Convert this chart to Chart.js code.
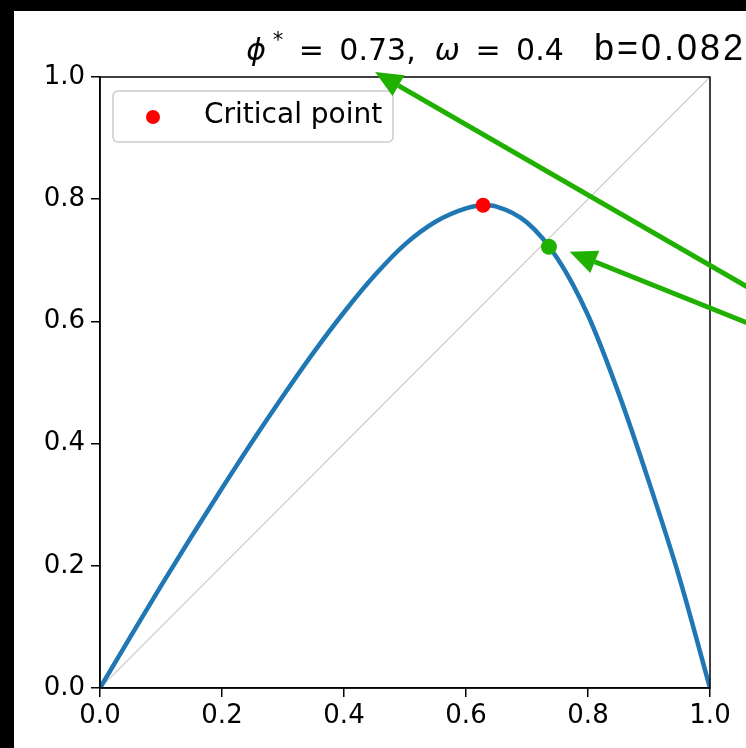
<!DOCTYPE html>
<html>
<head>
<meta charset="utf-8">
<script src="https://cdn.jsdelivr.net/npm/chart.js@4.4.1/dist/chart.umd.min.js"></script>
<style>
    html, body { margin: 0; padding: 0; background: #000; }
    #wrap { position: absolute; left: 14px; top: 11px; width: 732px; height: 737px; background: #fff; }
</style>
</head>
<body>
<div id="wrap"><canvas id="chart" width="732" height="737"></canvas></div>
<script>
// map curve
const curveX = [0, 0.05, 0.10, 0.15, 0.20, 0.25, 0.30, 0.35, 0.40, 0.45, 0.50, 0.55, 0.60, 0.63, 0.65, 0.70, 0.75, 0.80, 0.85, 0.90, 0.95, 1.0];
const curveY = [0, 0.084, 0.167, 0.248, 0.327, 0.404, 0.478, 0.549, 0.615, 0.675, 0.726, 0.763, 0.785, 0.790, 0.788, 0.762, 0.703, 0.610, 0.483, 0.337, 0.180, 0.0];
const diagX = [0, 1];
const diagY = [0, 1];
const criticalPoint = [0.628, 0.790];
const fixedPoint = [0.736, 0.722];
const tickValues = [0, 0.2, 0.4, 0.6, 0.8, 1.0];
const legendLabel = 'Critical point';
const sideLabel = 'b=0.082';
// arrows as [tailX, tailY, tipX, tipY] in data units
const arrowTitle = [1.1, 0.634, 0.451, 1.008];
const arrowPoint = [1.1, 0.582, 0.770, 0.714];

const GREEN = '#1fb000';
const FONT = "'DejaVu Sans'";

const toPoints = (xs, ys) => xs.map((x, i) => ({ x: x, y: ys[i] }));

function drawArrow(ctx, chart, a) {
    const sx = chart.scales.x, sy = chart.scales.y;
    const x0 = sx.getPixelForValue(a[0]), y0 = sy.getPixelForValue(a[1]);
    const x1 = sx.getPixelForValue(a[2]), y1 = sy.getPixelForValue(a[3]);
    const ang = Math.atan2(y1 - y0, x1 - x0);
    const headLen = 27, headHalf = 12;
    const bx = x1 - headLen * Math.cos(ang), by = y1 - headLen * Math.sin(ang);
    ctx.strokeStyle = GREEN;
    ctx.fillStyle = GREEN;
    ctx.lineWidth = 5;
    ctx.beginPath();
    ctx.moveTo(x0, y0);
    ctx.lineTo(bx, by);
    ctx.stroke();
    ctx.beginPath();
    ctx.moveTo(x1, y1);
    ctx.lineTo(bx + headHalf * Math.sin(ang), by - headHalf * Math.cos(ang));
    ctx.lineTo(bx - headHalf * Math.sin(ang), by + headHalf * Math.cos(ang));
    ctx.closePath();
    ctx.fill();
}

function drawTitle(ctx, area) {
    // phi^* = 0.73,  omega = 0.4  (mathtext style, wider space round "=")
    const eq = ' \u2009=\u2009 ';
    const parts = [
        { t: '\u03D5', f: 'oblique 30px ' + FONT, dy: 0 },
        { t: ' *', f: '21px ' + FONT, dy: -13 },
        { t: eq + '0.73,  ', f: '30px ' + FONT, dy: 0 },
        { t: '\u03C9', f: 'oblique 30px ' + FONT, dy: 0 },
        { t: eq + '0.4', f: '30px ' + FONT, dy: 0 }
    ];
    let total = 0;
    parts.forEach(p => { ctx.font = p.f; p.w = ctx.measureText(p.t).width; total += p.w; });
    let x = (area.left + area.right) / 2 - total / 2;
    const base = area.top - 17;
    ctx.fillStyle = '#000';
    ctx.textAlign = 'left';
    ctx.textBaseline = 'alphabetic';
    parts.forEach(p => { ctx.font = p.f; ctx.fillText(p.t, x, base + p.dy); x += p.w; });

    ctx.font = "36px 'Liberation Sans'";
    ctx.letterSpacing = '3px';
    ctx.fillText(sideLabel, area.left + 494, area.top - 17);
    ctx.letterSpacing = '0px';
}

function drawLegend(ctx, area) {
    const x = area.left + 13, y = area.top + 14, w = 280, h = 51;
    ctx.fillStyle = 'rgba(255,255,255,0.8)';
    ctx.strokeStyle = '#cccccc';
    ctx.lineWidth = 1.5;
    ctx.beginPath();
    ctx.roundRect(x, y, w, h, 5);
    ctx.fill();
    ctx.stroke();
    ctx.fillStyle = 'red';
    ctx.beginPath();
    ctx.arc(x + 40, y + 26, 7, 0, Math.PI * 2);
    ctx.fill();
    ctx.fillStyle = '#000';
    ctx.font = '28px ' + FONT;
    ctx.textAlign = 'left';
    ctx.textBaseline = 'middle';
    ctx.fillText(legendLabel, x + 91, y + 25);
}

const overlay = {
    id: 'overlay',
    afterDatasetsDraw(chart) {
        const ctx = chart.ctx, area = chart.chartArea;
        ctx.save();
        ctx.strokeStyle = '#000';
        ctx.lineWidth = 1.5;
        ctx.strokeRect(area.left, area.top, area.right - area.left, area.bottom - area.top);
        drawLegend(ctx, area);
        drawArrow(ctx, chart, arrowTitle);
        drawArrow(ctx, chart, arrowPoint);
        drawTitle(ctx, area);
        ctx.restore();
    }
};

const axisCommon = {
    type: 'linear',
    min: 0,
    max: 1,
    afterBuildTicks: s => { s.ticks = tickValues.map(v => ({ value: v })); },
    ticks: {
        callback: v => v.toFixed(1),
        color: '#000',
        font: { family: 'DejaVu Sans', size: 26 },
        autoSkip: false,
        maxRotation: 0
    },
    grid: { drawOnChartArea: false, drawTicks: true, tickLength: 9, color: '#000', lineWidth: 1.5 },
    border: { color: '#000', width: 1.5 }
};

new Chart(document.getElementById('chart'), {
    type: 'scatter',
    data: {
        datasets: [
            {
                label: legendLabel,
                data: [{ x: criticalPoint[0], y: criticalPoint[1] }],
                backgroundColor: 'red',
                borderWidth: 0,
                pointRadius: 7.5
            },
            {
                label: 'fixed point',
                data: [{ x: fixedPoint[0], y: fixedPoint[1] }],
                backgroundColor: GREEN,
                borderWidth: 0,
                pointRadius: 8
            },
            {
                label: 'map',
                data: toPoints(curveX, curveY),
                showLine: true,
                borderColor: '#1f77b4',
                borderWidth: 4.5,
                pointRadius: 0,
                cubicInterpolationMode: 'monotone'
            },
            {
                label: 'diagonal',
                data: toPoints(diagX, diagY),
                showLine: true,
                borderColor: '#c8c8c8',
                borderWidth: 1.2,
                pointRadius: 0
            }
        ]
    },
    options: {
        responsive: false,
        animation: false,
        layout: { padding: { left: 0, right: 36, top: 66, bottom: 0 } },
        plugins: { legend: { display: false }, tooltip: { enabled: false } },
        scales: {
            x: Object.assign({}, axisCommon, {
                ticks: Object.assign({}, axisCommon.ticks, { padding: 4 }),
                afterFit: s => { s.height = 60; }
            }),
            y: Object.assign({}, axisCommon, {
                ticks: Object.assign({}, axisCommon.ticks, { padding: 6 }),
                afterFit: s => { s.width = 86; }
            })
        }
    },
    plugins: [overlay]
});
</script>
</body>
</html>
